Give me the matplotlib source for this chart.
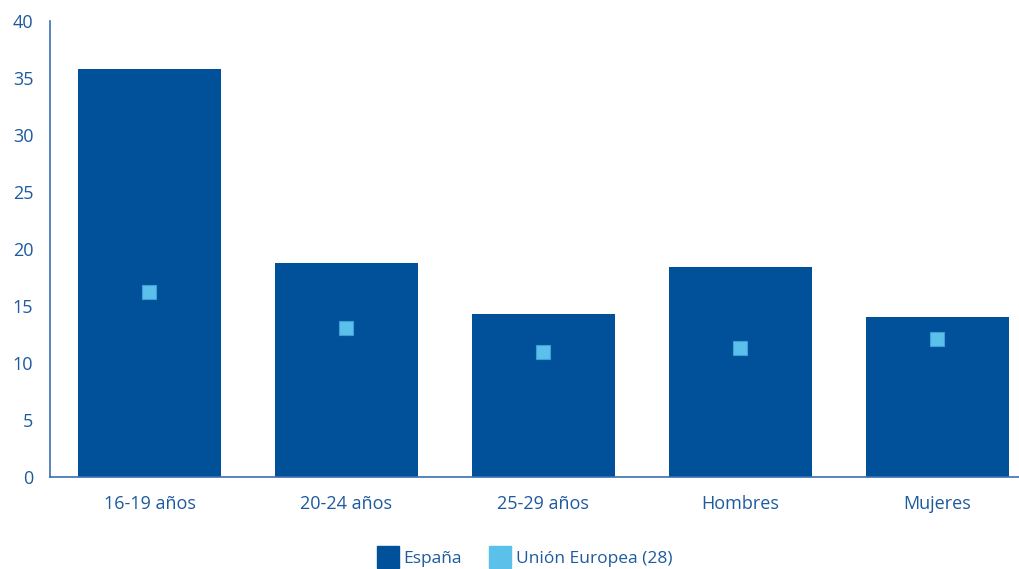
import matplotlib.pyplot as plt
from matplotlib.lines import Line2D
import numpy as np

plt.rcParams['font.family'] = ['Open Sans', 'DejaVu Sans']

# datos
categorias = ["16-19 años", "20-24 años", "25-29 años", "Hombres", "Mujeres"]
espana = [35.8, 18.8, 14.3, 18.4, 14.0]
ue28 = [16.2, 13.1, 11.0, 11.3, 12.1]

azul = "#00519a"
celeste = "#5bc0ea"
texto = "#1d5a9e"

fig = plt.figure(figsize=(10.2, 5.69), dpi=100)
ax = fig.add_axes([50 / 1020, 92 / 569, 970 / 1020, 456 / 569])

x = np.arange(len(categorias))
ax.bar(x, espana, width=0.726, color=azul, zorder=2)
ax.plot(x, ue28, linestyle="none", marker="s", markersize=10.5,
        markerfacecolor=celeste, markeredgecolor="#3f9fd6", markeredgewidth=0.8, zorder=3)

ax.set_xlim(-0.505, 4.42)
ax.set_ylim(0, 40)
ax.set_yticks(range(0, 41, 5))
ax.set_xticks(x)
ax.set_xticklabels(categorias)

for s in ["top", "right"]:
    ax.spines[s].set_visible(False)
for s in ["left", "bottom"]:
    ax.spines[s].set_color("#3a70b0")
    ax.spines[s].set_linewidth(1.2)

ax.tick_params(axis="both", length=0, colors=texto, labelsize=13)
ax.tick_params(axis="y", pad=12)
ax.tick_params(axis="x", pad=13)

handles = [
    Line2D([], [], linestyle="none", marker="s", markersize=16, color=azul, label="España"),
    Line2D([], [], linestyle="none", marker="s", markersize=16, color=celeste, label="Unión Europea (28)"),
]
leg = fig.legend(handles=handles, loc="center", bbox_to_anchor=(525 / 1020, 10 / 569),
                 ncol=2, frameon=False, fontsize=12.5, handletextpad=0.3, columnspacing=1.6,
                 handlelength=1.2)
for t in leg.get_texts():
    t.set_color(texto)

fig.savefig("out.png", dpi=100)
